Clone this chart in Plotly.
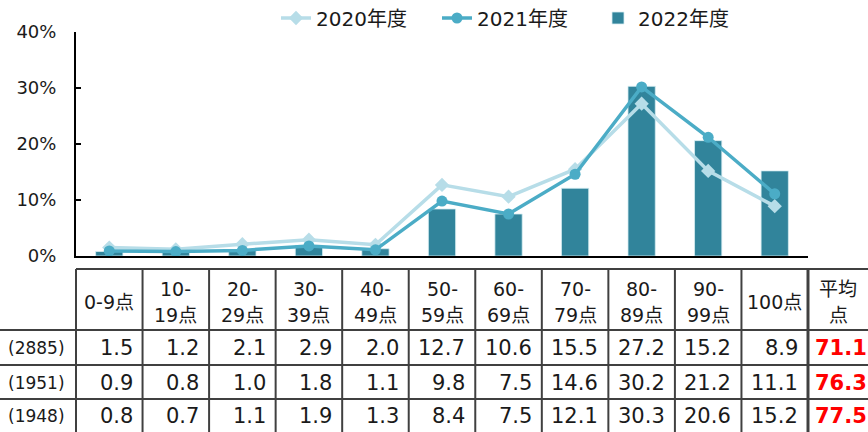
import plotly.graph_objects as go

categories = ["0-9点", "10-<br>19点", "20-<br>29点", "30-<br>39点", "40-<br>49点", "50-<br>59点",
              "60-<br>69点", "70-<br>79点", "80-<br>89点", "90-<br>99点", "100点"]
series_names = ["2020年度", "2021年度", "2022年度"]
v2020 = [1.5, 1.2, 2.1, 2.9, 2.0, 12.7, 10.6, 15.5, 27.2, 15.2, 8.9]
v2021 = [0.9, 0.8, 1.0, 1.8, 1.1, 9.8, 7.5, 14.6, 30.2, 21.2, 11.1]
v2022 = [0.8, 0.7, 1.1, 1.9, 1.3, 8.4, 7.5, 12.1, 30.3, 20.6, 15.2]
sample_sizes = ["(2885)", "(1951)", "(1948)"]
averages = [71.1, 76.3, 77.5]
avg_header = "平均<br>点"
y_ticks = [0, 10, 20, 30, 40]

W, H = 868, 432
L, R, T, B = 76, 60, 32, 176
PW, PH = W - L - R, H - T - B
FONT = "DejaVu Sans, Noto Sans CJK JP, sans-serif"
TXT = "#1a1a1a"
GRID = "#404040"

def px(x):
    return (x - L) / PW

def py(y):
    return (H - B - y) / PH

xs = list(range(len(categories)))
fig = go.Figure()
fig.add_trace(go.Scatter(x=xs, y=v2020, name=series_names[0], mode="lines+markers",
                         line=dict(color="#b7dde8", width=3.5), marker=dict(symbol="diamond", size=11, color="#b7dde8")))
fig.add_trace(go.Scatter(x=xs, y=v2021, name=series_names[1], mode="lines+markers",
                         line=dict(color="#4bacc6", width=3.5), marker=dict(symbol="circle", size=11, color="#4bacc6")))
fig.add_trace(go.Bar(x=xs, y=v2022, name=series_names[2], marker=dict(color="#31849b", line=dict(color="#d7eef3", width=0.8))))

shapes = []
ann = []
n = len(categories)
def colx(b):  # boundary index -> paper x
    return b / n

top_y, hdr_bot, r1, r2 = 269, 330, 365, 399
shapes.append(dict(type="line", xref="paper", yref="paper", x0=colx(0), x1=px(W + 2), y0=py(top_y), y1=py(top_y), line=dict(color=GRID, width=2)))
for yy in (hdr_bot, r1, r2):
    shapes.append(dict(type="line", xref="paper", yref="paper", x0=px(-2), x1=px(W + 2), y0=py(yy), y1=py(yy), line=dict(color=GRID, width=2)))
for b in range(n + 1):
    shapes.append(dict(type="line", xref="paper", yref="paper", x0=colx(b), x1=colx(b), y0=py(top_y), y1=py(H + 2),
                       line=dict(color=GRID, width=3 if b == n else 2)))

HF = 19
for i, c in enumerate(categories):
    parts = c.split("<br>")
    cx = (i + 0.5) / n
    if len(parts) == 1:
        ann.append(dict(x=cx, y=py(302), text=parts[0], font=dict(size=HF, color=TXT)))
    else:
        ann.append(dict(x=cx, y=py(289), text=parts[0], font=dict(size=HF, color=TXT)))
        ann.append(dict(x=cx, y=py(315), text=parts[1], font=dict(size=HF, color=TXT)))
hp = avg_header.split("<br>")
ann.append(dict(x=px(838), y=py(289), text=hp[0], font=dict(size=HF, color=TXT)))
ann.append(dict(x=px(838), y=py(315), text=hp[1], font=dict(size=HF, color=TXT)))

row_y = [348, 383, 416]
for r, vals in enumerate([v2020, v2021, v2022]):
    ann.append(dict(x=px(67), y=py(row_y[r]), text=sample_sizes[r], xanchor="right", font=dict(size=17, color=TXT)))
    for i, v in enumerate(vals):
        ann.append(dict(x=colx(i + 1), xshift=-8, y=py(row_y[r]), text=f"{v:.1f}", xanchor="right",
                        font=dict(size=21, color=TXT)))
    ann.append(dict(x=px(813), y=py(row_y[r]), text=f"<b>{averages[r]:.1f}</b>", xanchor="left",
                    font=dict(size=21, color="#ff0000")))

for a in ann:
    a.setdefault("xref", "paper")
    a.setdefault("yref", "paper")
    a.setdefault("showarrow", False)
    a.setdefault("xanchor", "center")
    a.setdefault("yanchor", "middle")

fig.update_layout(
    width=W, height=H, margin=dict(l=L, r=R, t=T, b=B, autoexpand=False),
    plot_bgcolor="white", paper_bgcolor="white",
    font=dict(family=FONT, color=TXT, size=18),
    bargap=0.59, showlegend=True,
    legend=dict(orientation="h", x=px(276), xanchor="left", y=py(18), yanchor="middle",
                entrywidth=116, entrywidthmode="pixels",
                font=dict(size=20, color=TXT), traceorder="normal", bgcolor="rgba(0,0,0,0)"),
    xaxis=dict(range=[-0.5, n - 0.5], showticklabels=False, ticks="", showline=True, linecolor="black", linewidth=2,
               showgrid=False, zeroline=False, fixedrange=True),
    yaxis=dict(range=[0, 40], tickvals=y_ticks, ticktext=[f"{t}%" for t in y_ticks], ticks="inside", ticklen=5,
               tickwidth=2, tickcolor="black", showline=True, linecolor="black", linewidth=2, showgrid=False,
               zeroline=False, tickfont=dict(size=18, color=TXT), ticklabelstandoff=14, fixedrange=True),
    shapes=shapes, annotations=ann,
)
fig.write_html("out.html", config={"displayModeBar": False},
               post_script="document.body.style.margin='0';document.body.style.overflow='hidden';")
